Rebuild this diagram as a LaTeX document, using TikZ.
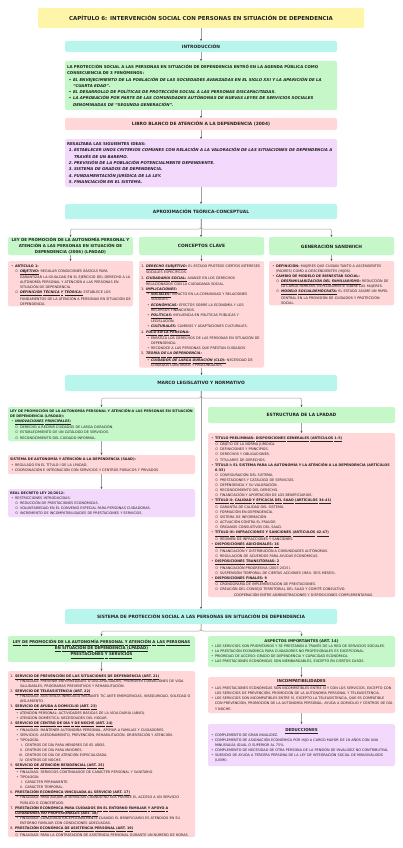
\documentclass[tikz,border=0pt]{standalone}
\usepackage{fontspec}
\setmainfont{DejaVu Sans}
\usepackage{enumitem}
\usetikzlibrary{arrows.meta}
\definecolor{amarillo}{HTML}{FFF5A8}
\definecolor{turquesa}{HTML}{B8F5EC}
\definecolor{verde}{HTML}{C5F7C8}
\definecolor{rosa}{HTML}{FFD7D9}
\definecolor{lila}{HTML}{F3D9FB}
\definecolor{tinta}{HTML}{222222}
\newcommand{\singuion}{\hyphenpenalty=10000\exhyphenpenalty=10000\relax}
\newcommand{\cuerpo}{\fontsize{3.4}{5.1}\selectfont\singuion}
\newcommand{\resalta}{\fontsize{3.95}{6.3}\selectfont\bfseries\singuion}
% subrayado palabra a palabra
\def\ulw#1 #2\relax{\underline{\vphantom{(}#1}\ifx\relax#2\relax\else\ \ulw#2\relax\fi}
\newcommand{\uline}[1]{\ulw#1 \relax}
\newcommand{\sub}[1]{{\bfseries\itshape\uline{#1}}}
\setlist{nosep, leftmargin=5pt, labelsep=1.5pt}
\setlist[itemize]{label=\textbullet}
\setlist[itemize,2]{label=$\circ$}
\setlist[enumerate]{label=\arabic*.}
\tikzset{
  caja/.style={anchor=north west, rounded corners=1.5pt, inner xsep=2pt, inner ysep=1pt, outer sep=0pt, text=tinta, align=left, font=\cuerpo},
  ancha/.style={caja, text width=268pt},
  tercio/.style={caja, text width=121pt},
  mitad/.style={caja, text width=183pt},
  titulo/.style={align=center, font=\fontsize{4.4}{5.8}\selectfont\bfseries\singuion},
  flecha/.style={draw=gray!75, line width=0.5pt, rounded corners=2pt, -{Stealth[length=2.2pt, width=2pt, color=gray!60!black]}}
}
\begin{document}
\begin{tikzpicture}[x=1pt, y=-1pt]
\fill[white] (0,0) rectangle (402,848);
\useasboundingbox (0,0) rectangle (402,848);

% cabecera e introduccion
\node[caja, titulo, fill=amarillo, text width=322pt, minimum height=20pt, font=\fontsize{5.5}{7}\selectfont\bfseries] (tit) at (38,8) {CAPÍTULO 6: INTERVENCIÓN SOCIAL CON PERSONAS EN SITUACIÓN DE DEPENDENCIA};
\node[ancha, titulo, fill=turquesa, minimum height=11pt] (intro) at (65,41) {INTRODUCCIÓN};
\node[ancha, fill=verde, minimum height=49pt, font=\resalta] (fen) at (65,61) {LA PROTECCIÓN SOCIAL A LAS PERSONAS EN SITUACIÓN DE DEPENDENCIA ENTRÓ EN LA AGENDA PÚBLICA COMO CONSECUENCIA DE 3 FENÓMENOS:
\begin{itemize}[leftmargin=6pt]\itshape
\item EL ENVEJECIMIENTO DE LA POBLACIÓN DE LAS SOCIEDADES AVANZADAS EN EL SIGLO XXI Y LA APARICIÓN DE LA ``CUARTA EDAD''.
\item EL DESARROLLO DE POLÍTICAS DE PROTECCIÓN SOCIAL A LAS PERSONAS DISCAPACITADAS.
\item LA APROBACIÓN POR PARTE DE LAS COMUNIDADES AUTÓNOMAS DE NUEVAS LEYES DE SERVICIOS SOCIALES DENOMINADAS DE ``SEGUNDA GENERACIÓN''.
\end{itemize}};
\node[ancha, titulo, fill=rosa, minimum height=12pt] (libro) at (65,118) {LIBRO BLANCO DE ATENCIÓN A LA DEPENDENCIA (2004)};
\node[ancha, fill=lila, minimum height=48pt, font=\resalta] (ideas) at (65,139) {RESALTABA LAS SIGUIENTES IDEAS:
\begin{enumerate}[leftmargin=7pt, labelsep=1pt]\itshape
\item ESTABLECER UNOS CRITERIOS COMUNES CON RELACIÓN A LA VALORACIÓN DE LAS SITUACIONES DE DEPENDENCIA A TRAVÉS DE UN BAREMO.
\item PREVISIÓN DE LA POBLACIÓN POTENCIALMENTE DEPENDIENTE.
\item SISTEMA DE GRADOS DE DEPENDENCIA.
\item FUNDAMENTACIÓN JURÍDICA DE LA LEY.
\item FINANCIACIÓN EN EL SISTEMA.
\end{enumerate}};

% aproximacion teorica
\node[ancha, titulo, fill=turquesa, minimum height=15pt] (apr) at (65,204) {APROXIMACIÓN TEÓRICA-CONCEPTUAL};
\node[tercio, titulo, fill=verde, minimum height=18pt, inner ysep=0.5pt, font=\fontsize{4}{5.6}\selectfont\bfseries] (ley1) at (8,237) {LEY DE PROMOCIÓN DE LA AUTONOMÍA PERSONAL Y\\ ATENCIÓN A LAS PERSONAS EN SITUACIÓN DE\\ DEPENDENCIA (2006) (LPADAD)};
\node[tercio, titulo, fill=verde, minimum height=18pt] (clave) at (139,237) {CONCEPTOS CLAVE};
\node[tercio, titulo, fill=verde, minimum height=18pt] (sand) at (269,237) {GENERACIÓN SANDWICH};
\node[tercio, fill=rosa, minimum height=44pt] (art1) at (8,261) {\begin{itemize}
\item \textbf{ARTÍCULO 1:}
\begin{itemize}
\item \sub{OBJETIVO:} REGULAR CONDICIONES BÁSICAS PARA GARANTIZAR LA IGUALDAD EN EL EJERCICIO DEL DERECHO A LA AUTONOMÍA PERSONAL Y ATENCIÓN A LAS PERSONAS EN SITUACIÓN DE DEPENDENCIA.
\item \sub{DEFINICIÓN TÉCNICA Y TEÓRICA:} ESTABLECE LOS FUNDAMENTOS DE LA ATENCIÓN A PERSONAS EN SITUACIÓN DE DEPENDENCIA.
\end{itemize}
\end{itemize}};
\node[tercio, fill=rosa, minimum height=97pt] (conc) at (139,261) {\begin{enumerate}
\item \sub{DERECHO SUBJETIVO:} EL ESTADO PROTEGE CIERTOS INTERESES SOCIALES ESPECÍFICOS.
\item \sub{CIUDADANÍA SOCIAL:} AVANCE EN LOS DERECHOS RELACIONADOS CON LA CIUDADANÍA SOCIAL.
\item \sub{IMPLICACIONES:}
\begin{itemize}
\item \sub{SOCIALES:} IMPACTO EN LA COMUNIDAD Y RELACIONES SOCIALES.
\item \sub{ECONÓMICAS:} EFECTOS SOBRE LA ECONOMÍA Y LOS RECURSOS FINANCIEROS.
\item \sub{POLÍTICAS:} INFLUENCIA EN POLÍTICAS PÚBLICAS Y LEGISLACIÓN.
\item \sub{CULTURALES:} CAMBIOS Y ADAPTACIONES CULTURALES.
\end{itemize}
\item \sub{FOCO EN LA PERSONA:}
\begin{itemize}
\item ENFATIZA LOS DERECHOS DE LAS PERSONAS EN SITUACIÓN DE DEPENDENCIA.
\item RECONOCE A LAS PERSONAS QUE PRESTAN CUIDADOS.
\end{itemize}
\item \sub{TEORÍA DE LA DEPENDENCIA:}
\begin{itemize}
\item \sub{CUIDADOS DE LARGA DURACIÓN (CLD):} NECESIDAD DE CUIDADOS CONTINUOS Y PROLONGADOS.
\end{itemize}
\end{enumerate}};
\node[tercio, fill=rosa, minimum height=38pt] (sandp) at (269,261) {\begin{itemize}
\item \textbf{DEFINICIÓN:} MUJERES QUE CUIDAN TANTO A ASCENDENTES (PADRES) COMO A DESCENDIENTES (HIJOS).
\item \textbf{CAMBIO DE MODELO DE BIENESTAR SOCIAL:}
\begin{itemize}
\item \sub{DESFAMILIARIZACIÓN DEL FAMILIARISMO:} REDUCCIÓN DE LA CARGA FAMILIAR, ESPECIALMENTE SOBRE LAS MUJERES.
\item \sub{MODELO SOCIALDEMÓCRATA:} EL ESTADO ASUME UN PAPEL CENTRAL EN LA PROVISIÓN DE CUIDADOS Y PROTECCIÓN SOCIAL.
\end{itemize}
\end{itemize}};

% marco legislativo
\node[ancha, titulo, fill=turquesa, minimum height=16pt] (marco) at (65,375) {MARCO LEGISLATIVO Y NORMATIVO};
\node[mitad, fill=verde, minimum height=34pt] (lpapad) at (8,407) {\textbf{LEY DE PROMOCIÓN DE LA AUTONOMÍA PERSONAL Y ATENCIÓN A LAS PERSONAS EN SITUACIÓN DE DEPENDENCIA (LPADAD):}
\begin{itemize}
\item \sub{INNOVACIONES PRINCIPALES:}
\begin{itemize}
\item DERECHO A RECIBIR CUIDADOS DE LARGA DURACIÓN.
\item ESTABLECIMIENTO DE UN CATÁLOGO DE SERVICIOS.
\item RECONOCIMIENTO DEL CUIDADO INFORMAL.
\end{itemize}
\end{itemize}};
\node[mitad, fill=rosa, minimum height=19pt] (saad) at (8,455) {\textbf{SISTEMA DE AUTONOMÍA Y ATENCIÓN A LA DEPENDENCIA (SAAD):}
\begin{itemize}
\item REGULADO EN EL TÍTULO I DE LA LPADAD.
\item COORDINACIÓN E INTEGRACIÓN CON SERVICIOS Y CENTROS PÚBLICOS Y PRIVADOS.
\end{itemize}};
\node[mitad, fill=lila, minimum height=28pt] (rd) at (8,489) {\textbf{REAL DECRETO LEY 20/2012:}
\begin{itemize}
\item RESTRICCIONES INTRODUCIDAS:
\begin{itemize}
\item REDUCCIÓN DE PRESTACIONES ECONÓMICAS.
\item VOLUNTARIEDAD EN EL CONVENIO ESPECIAL PARA PERSONAS CUIDADORAS.
\item INCREMENTO DE INCOMPATIBILIDADES DE PRESTACIONES Y SERVICIOS.
\end{itemize}
\end{itemize}};
\node[mitad, titulo, fill=verde, minimum height=16pt] (estr) at (208,407) {ESTRUCTURA DE LA LPADAD};
\node[mitad, fill=rosa, minimum height=164pt] (estrp) at (208,433) {\begin{itemize}
\item \textbf{\uline{TÍTULO PRELIMINAR: DISPOSICIONES GENERALES (ARTÍCULOS 1-5)}}
\begin{itemize}
\item OBJETO DE LA NORMA JURÍDICA.
\item DEFINICIONES Y PRINCIPIOS.
\item DERECHOS Y OBLIGACIONES.
\item TITULARES DE DERECHOS.
\end{itemize}
\item \textbf{TÍTULO I: EL SISTEMA PARA LA AUTONOMÍA Y LA ATENCIÓN A LA DEPENDENCIA (ARTÍCULOS 6-33)}
\begin{itemize}
\item CONFIGURACIÓN DEL SISTEMA.
\item PRESTACIONES Y CATÁLOGO DE SERVICIOS.
\item DEPENDENCIA Y SU VALORACIÓN.
\item RECONOCIMIENTO DEL DERECHO.
\item FINANCIACIÓN Y APORTACIÓN DE LOS BENEFICIARIOS.
\end{itemize}
\item \textbf{\uline{TÍTULO II: CALIDAD Y EFICACIA DEL SAAD (ARTÍCULOS 34-41)}}
\begin{itemize}
\item GARANTÍA DE CALIDAD DEL SISTEMA.
\item FORMACIÓN EN DEPENDENCIA.
\item SISTEMA DE INFORMACIÓN.
\item ACTUACIÓN CONTRA EL FRAUDE.
\item ÓRGANOS CONSULTIVOS DEL SAAD.
\end{itemize}
\item \textbf{\uline{TÍTULO III: INFRACCIONES Y SANCIONES (ARTÍCULOS 42-47)}}
\begin{itemize}
\item RÉGIMEN DE INFRACCIONES Y SANCIONES.
\end{itemize}
\item \textbf{\uline{DISPOSICIONES ADICIONALES: 16}}
\begin{itemize}
\item FINANCIACIÓN Y DISTRIBUCIÓN A COMUNIDADES AUTÓNOMAS.
\item REGULACIÓN DE ACUERDOS PARA AYUDAS ECONÓMICAS.
\end{itemize}
\item \textbf{\uline{DISPOSICIONES TRANSITORIAS: 2}}
\begin{itemize}
\item FINANCIACIÓN PROGRESIVA (2007-2015).
\item SUSPENSIÓN TEMPORAL DE CIERTAS ACCIONES (MÁX. SEIS MESES).
\end{itemize}
\item \textbf{\uline{DISPOSICIONES FINALES: 9}}
\begin{itemize}
\item CRONOGRAMA DE IMPLEMENTACIÓN DE PRESTACIONES.
\item CREACIÓN DEL CONSEJO TERRITORIAL DEL SAAD Y COMITÉ CONSULTIVO.\\
\hspace*{14pt}COOPERACIÓN ENTRE ADMINISTRACIONES Y DISPOSICIONES COMPLEMENTARIAS.
\end{itemize}
\end{itemize}};

% sistema de proteccion
\node[ancha, titulo, fill=turquesa, minimum height=15pt] (sis) at (65,609) {SISTEMA DE PROTECCIÓN SOCIAL A LAS PERSONAS EN SITUACIÓN DE DEPENDENCIA};
\node[mitad, titulo, fill=verde, minimum height=26pt, font=\fontsize{3.9}{6.3}\selectfont\bfseries] (prest) at (8,636) {\uline{LEY DE PROMOCIÓN DE LA AUTONOMÍA PERSONAL Y ATENCIÓN A LAS PERSONAS}\\\uline{EN SITUACIÓN DE DEPENDENCIA (LPADAD)}\\\uline{PRESTACIONES Y SERVICIOS}};
\node[mitad, fill=rosa, minimum height=163pt] (prestp) at (8,671) {\begin{enumerate}
\item \textbf{\uline{SERVICIO DE PREVENCIÓN DE LAS SITUACIONES DE DEPENDENCIA (ART. 21)}}
\begin{itemize}
\item FINALIDAD: PREVENIR ENFERMEDADES O DISCAPACIDADES, PROMOVER CONDICIONES DE VIDA SALUDABLES, PROGRAMAS PREVENTIVOS Y REHABILITACIÓN.
\end{itemize}
\item \textbf{\uline{SERVICIO DE TELEASISTENCIA (ART. 22)}}
\begin{itemize}
\item FINALIDAD: ASISTENCIA INMEDIATA MEDIANTE TIC ANTE EMERGENCIAS, INSEGURIDAD, SOLEDAD O AISLAMIENTO.
\end{itemize}
\item \textbf{\uline{SERVICIO DE AYUDA A DOMICILIO (ART. 23)}}
\begin{itemize}
\item ATENCIÓN PERSONAL: ACTIVIDADES BÁSICAS DE LA VIDA DIARIA (ABVD).
\item ATENCIÓN DOMÉSTICA: NECESIDADES DEL HOGAR.
\end{itemize}
\item \textbf{\uline{SERVICIO DE CENTRO DE DÍA Y DE NOCHE (ART. 24)}}
\begin{itemize}
\item FINALIDAD: MANTENER AUTONOMÍA PERSONAL, APOYAR A FAMILIAS Y CUIDADORES.
\item SERVICIOS: ASESORAMIENTO, PREVENCIÓN, REHABILITACIÓN, ORIENTACIÓN Y ATENCIÓN.
\item TIPOLOGÍA:
\begin{enumerate}[label=\Roman*.]
\item CENTROS DE DÍA PARA MENORES DE 65 AÑOS.
\item CENTROS DE DÍA PARA MAYORES.
\item CENTROS DE DÍA DE ATENCIÓN ESPECIALIZADA.
\item CENTROS DE NOCHE.
\end{enumerate}
\end{itemize}
\item \textbf{\uline{SERVICIO DE ATENCIÓN RESIDENCIAL (ART. 25)}}
\begin{itemize}
\item FINALIDAD: SERVICIOS CONTINUADOS DE CARÁCTER PERSONAL Y SANITARIO.
\item TIPOLOGÍA:
\begin{enumerate}[label=\Roman*.]
\item CARÁCTER PERMANENTE.
\item CARÁCTER TEMPORAL.
\end{enumerate}
\end{itemize}
\item \textbf{\uline{PRESTACIÓN ECONÓMICA VINCULADA AL SERVICIO (ART. 17)}}
\begin{itemize}
\item FINALIDAD: PARA ADQUIRIR SERVICIOS CUANDO NO SEA POSIBLE EL ACCESO A UN SERVICIO PÚBLICO O CONCERTADO.
\end{itemize}
\item \textbf{\uline{PRESTACIÓN ECONÓMICA PARA CUIDADOS EN EL ENTORNO FAMILIAR Y APOYO A CUIDADORES NO PROFESIONALES (ART. 18)}}
\begin{itemize}
\item FINALIDAD: CONCEDIDA EXCEPCIONALMENTE CUANDO EL BENEFICIARIO ES ATENDIDO EN SU ENTORNO FAMILIAR CON CONDICIONES ADECUADAS.
\end{itemize}
\item \textbf{\uline{PRESTACIÓN ECONÓMICA DE ASISTENCIA PERSONAL (ART. 19)}}
\begin{itemize}
\item[$\circ$] FINALIDAD: PARA LA CONTRATACIÓN DE ASISTENCIA PERSONAL DURANTE UN NÚMERO DE HORAS.
\end{itemize}
\end{enumerate}};
\node[mitad, fill=verde, minimum height=31pt] (asp) at (208,636) {{\centering\fontsize{3.8}{5.6}\selectfont\bfseries ASPECTOS IMPORTANTES (ART. 14)\par}
\begin{itemize}
\item LOS SERVICIOS SON PRIORITARIOS Y SE PRESTARÁN A TRAVÉS DE LA RED DE SERVICIOS SOCIALES.
\item LA PRESTACIÓN ECONÓMICA PARA CUIDADORES NO PROFESIONALES ES EXCEPCIONAL.
\item PRIORIDAD DE ACCESO: GRADO DE DEPENDENCIA Y CAPACIDAD ECONÓMICA.
\item LAS PRESTACIONES ECONÓMICAS SON INEMBARGABLES, EXCEPTO EN CIERTOS CASOS.
\end{itemize}};
\node[mitad, fill=rosa, minimum height=36pt] (inc) at (208,677) {{\centering\fontsize{4}{6}\selectfont\bfseries\uline{INCOMPATIBILIDADES}\par}
\begin{itemize}
\item LAS PRESTACIONES ECONÓMICAS SON INCOMPATIBLES ENTRE SÍ Y CON LOS SERVICIOS, EXCEPTO CON LOS SERVICIOS DE PREVENCIÓN, PROMOCIÓN DE LA AUTONOMÍA PERSONAL Y TELEASISTENCIA.
\item LOS SERVICIOS SON INCOMPATIBLES ENTRE SÍ, EXCEPTO LA TELEASISTENCIA, QUE ES COMPATIBLE CON PREVENCIÓN, PROMOCIÓN DE LA AUTONOMÍA PERSONAL, AYUDA A DOMICILIO Y CENTROS DE DÍA Y NOCHE.
\end{itemize}};
\node[mitad, fill=lila, minimum height=42pt] (ded) at (208,724) {{\centering\fontsize{4}{6}\selectfont\bfseries\uline{DEDUCCIONES}\par}
\begin{itemize}
\item COMPLEMENTO DE GRAN INVALIDEZ.
\item COMPLEMENTO DE ASIGNACIÓN ECONÓMICA POR HIJO A CARGO MAYOR DE 18 AÑOS CON UNA MINUSVALÍA IGUAL O SUPERIOR AL 75\%.
\item COMPLEMENTO DE NECESIDAD DE OTRA PERSONA DE LA PENSIÓN DE INVALIDEZ NO CONTRIBUTIVA.
\item SUBSIDIO DE AYUDA A TERCERA PERSONA DE LA LEY DE INTEGRACIÓN SOCIAL DE MINUSVÁLIDOS (LISMI).
\end{itemize}};

% conectores
\foreach \a/\b in {tit/intro, intro/fen, fen/libro, libro/ideas, ideas/apr, apr/clave, ley1/art1, clave/conc, sand/sandp, conc/marco, marco/sis, lpapad/saad, saad/rd, estr/estrp, prest/prestp, asp/inc, inc/ded}
  \draw[flecha] (\a.south) -- (\a.south |- \b.north);
\foreach \b in {ley1, sand}
  \draw[flecha] (apr.south) -- ++(0,10) -| (\b.north);
\foreach \b in {lpapad, estr}
  \draw[flecha] (marco.south) -- ++(0,7) -| (\b.north);
\foreach \b in {prest, asp}
  \draw[flecha] (sis.south) -- ++(0,7) -| (\b.north);
\end{tikzpicture}
\end{document}
